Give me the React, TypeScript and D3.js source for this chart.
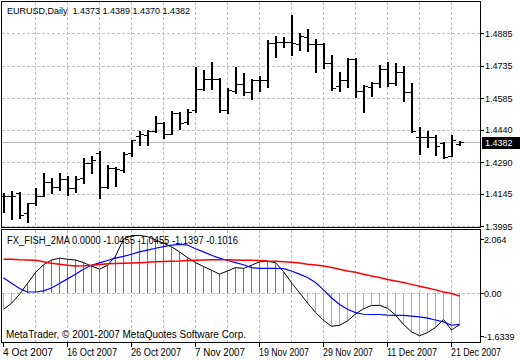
import { useMemo } from 'react';
import { scalePoint, scaleLinear, line as d3line, timeParse, timeFormat } from 'd3';

// trading days shown on the chart (EURUSD, Daily)
const DATES = [
  '2007-10-04', '2007-10-05', '2007-10-08', '2007-10-09', '2007-10-10', '2007-10-11', '2007-10-12',
  '2007-10-15', '2007-10-16', '2007-10-17', '2007-10-18', '2007-10-19', '2007-10-22', '2007-10-23',
  '2007-10-24', '2007-10-25', '2007-10-26', '2007-10-29', '2007-10-30', '2007-10-31', '2007-11-01',
  '2007-11-02', '2007-11-05', '2007-11-06', '2007-11-07', '2007-11-08', '2007-11-09', '2007-11-12',
  '2007-11-13', '2007-11-14', '2007-11-15', '2007-11-16', '2007-11-19', '2007-11-20', '2007-11-21',
  '2007-11-22', '2007-11-23', '2007-11-26', '2007-11-27', '2007-11-28', '2007-11-29', '2007-11-30',
  '2007-12-03', '2007-12-04', '2007-12-05', '2007-12-06', '2007-12-07', '2007-12-10', '2007-12-11',
  '2007-12-12', '2007-12-13', '2007-12-14', '2007-12-17', '2007-12-18', '2007-12-19', '2007-12-20',
  '2007-12-21', '2007-12-24',
];

const OPEN = [
  1.4134, 1.4134, 1.4148, 1.4056, 1.4102, 1.4134, 1.4199, 1.4176, 1.4213, 1.4171,
  1.4218, 1.4287, 1.4333, 1.4176, 1.4264, 1.4255, 1.4333, 1.4411, 1.4416, 1.4434,
  1.4471, 1.4421, 1.4517, 1.4476, 1.4531, 1.4628, 1.4674, 1.4674, 1.4531, 1.4619,
  1.4651, 1.4614, 1.4670, 1.4670, 1.4841, 1.4845, 1.4845, 1.4836, 1.4868, 1.4836,
  1.4836, 1.4748, 1.4642, 1.4670, 1.4767, 1.4619, 1.4638, 1.4656, 1.4721, 1.4656,
  1.4707, 1.4614, 1.4407, 1.4407, 1.4407, 1.4379, 1.4319, 1.4373,
];
const HIGH = [
  1.4148, 1.4158, 1.4153, 1.4102, 1.4171, 1.4241, 1.4218, 1.4241, 1.4227, 1.4227,
  1.4310, 1.4319, 1.4342, 1.4278, 1.4268, 1.4337, 1.4393, 1.4434, 1.4439, 1.4504,
  1.4476, 1.4527, 1.4522, 1.4536, 1.4730, 1.4716, 1.4753, 1.4679, 1.4633, 1.4730,
  1.4702, 1.4674, 1.4688, 1.4854, 1.4873, 1.4868, 1.4970, 1.4887, 1.4905, 1.4859,
  1.4841, 1.4785, 1.4707, 1.4771, 1.4771, 1.4647, 1.4661, 1.4739, 1.4753, 1.4748,
  1.4734, 1.4656, 1.4453, 1.4434, 1.4416, 1.4384, 1.4416, 1.4389,
];
const LOW = [
  1.4061, 1.4028, 1.4033, 1.4014, 1.4093, 1.4134, 1.4148, 1.4162, 1.4139, 1.4153,
  1.4194, 1.4241, 1.4125, 1.4171, 1.4181, 1.4245, 1.4319, 1.4370, 1.4370, 1.4430,
  1.4402, 1.4421, 1.4444, 1.4467, 1.4522, 1.4624, 1.4628, 1.4522, 1.4517, 1.4610,
  1.4601, 1.4582, 1.4619, 1.4638, 1.4776, 1.4822, 1.4785, 1.4808, 1.4804, 1.4707,
  1.4725, 1.4624, 1.4619, 1.4638, 1.4591, 1.4522, 1.4596, 1.4638, 1.4642, 1.4647,
  1.4573, 1.4430, 1.4328, 1.4361, 1.4324, 1.4310, 1.4319, 1.4370,
];
const CLOSE = [
  1.4134, 1.4134, 1.4047, 1.4102, 1.4134, 1.4199, 1.4176, 1.4213, 1.4171, 1.4213,
  1.4287, 1.4301, 1.4176, 1.4264, 1.4259, 1.4328, 1.4393, 1.4421, 1.4434, 1.4471,
  1.4421, 1.4517, 1.4471, 1.4522, 1.4628, 1.4674, 1.4674, 1.4531, 1.4624, 1.4651,
  1.4614, 1.4670, 1.4670, 1.4841, 1.4845, 1.4845, 1.4841, 1.4873, 1.4836, 1.4836,
  1.4748, 1.4633, 1.4670, 1.4767, 1.4619, 1.4642, 1.4656, 1.4721, 1.4656, 1.4707,
  1.4614, 1.4434, 1.4407, 1.4407, 1.4365, 1.4314, 1.4393, 1.4382,
];

// FX_FISH_2MA buffers
const HIST = [
  -0.61, -0.38, -0.04, 0.38, 0.79, 1.09, 1.27, 1.34, 1.3, 1.27,
  1.17, 1.04, 0.92, 1.07, 1.42, 2.06, 2.06, 2.06, 2.06, 2.04,
  1.91, 1.78, 1.58, 1.36, 1.17, 1.02, 0.88, 0.73, 0.85, 0.98,
  0.95, 1.07, 1.2, 1.22, 1.17, 0.83, 0.4, 0.02, -0.37, -0.73,
  -1.03, -1.26, -1.22, -1.06, -0.79, -0.59, -0.47, -0.46, -0.57, -0.83,
  -1.19, -1.47, -1.62, -1.5, -1.3, -1.0, -1.4, -1.2,
];
const FISHER = [
  -0.61, -0.38, -0.04, 0.38, 0.79, 1.09, 1.27, 1.34, 1.3, 1.27,
  1.17, 1.04, 0.92, 1.07, 1.42, 2.06, 2.2, 2.21, 2.16, 2.04,
  1.91, 1.78, 1.58, 1.36, 1.17, 1.02, 0.88, 0.73, 0.85, 0.98,
  0.95, 1.07, 1.2, 1.22, 1.17, 0.83, 0.4, 0.02, -0.37, -0.73,
  -1.03, -1.26, -1.22, -1.06, -0.79, -0.59, -0.47, -0.46, -0.57, -0.83,
  -1.19, -1.47, -1.62, -1.5, -1.3, -1.0, -1.4, -1.2,
];
const SIGNAL = [
  0.59, 0.38, 0.18, 0.05, 0.05, 0.09, 0.2, 0.37, 0.55, 0.73,
  0.92, 1.07, 1.16, 1.25, 1.34, 1.41, 1.49, 1.58, 1.65, 1.72,
  1.78, 1.84, 1.87, 1.84, 1.7, 1.58, 1.45, 1.34, 1.25, 1.17,
  1.09, 0.98, 0.95, 0.95, 0.95, 0.94, 0.85, 0.73, 0.6, 0.41,
  0.13, -0.17, -0.43, -0.61, -0.74, -0.8, -0.81, -0.81, -0.83, -0.84,
  -0.84, -0.87, -0.9, -0.95, -1.02, -1.09, -1.22, -1.19,
];
const SLOW = [
  1.3, 1.3, 1.28, 1.27, 1.26, 1.2, 1.15, 1.11, 1.07, 1.04,
  1.05, 1.07, 1.1, 1.13, 1.14, 1.15, 1.16, 1.17, 1.18, 1.2,
  1.21, 1.22, 1.23, 1.25, 1.26, 1.27, 1.28, 1.28, 1.28, 1.27,
  1.26, 1.26, 1.25, 1.23, 1.22, 1.2, 1.18, 1.16, 1.11, 1.08,
  1.04, 0.98, 0.92, 0.85, 0.8, 0.73, 0.66, 0.6, 0.53, 0.47,
  0.41, 0.34, 0.27, 0.2, 0.13, 0.05, -0.01, -0.1,
];

const PRICE_TICKS = [1.4885, 1.4735, 1.4585, 1.444, 1.429, 1.4145, 1.3995];
const IND_TICKS = [2.064, 0, -1.6339];
const IND_LABELS = ['2.064', '0.00', '-1.6339'];
const TIME_TICKS = [
  '2007-10-04', '2007-10-16', '2007-10-26', '2007-11-07',
  '2007-11-19', '2007-11-29', '2007-12-11', '2007-12-21',
];
const TITLE = 'EURUSD,Daily  1.4373 1.4389 1.4370 1.4382';
const IND_TITLE = 'FX_FISH_2MA 0.0000 -1.0455 -1.0455 -1.1397 -0.1016';
const COPYRIGHT = 'MetaTrader, \u00a9 2001-2007 MetaQuotes Software Corp.';
const LAST = 1.4382;

const W = 520;
const H = 360;
const LEFT = 1.5;
const RIGHT = 480.5;
const MAIN = { top: 1.5, bottom: 227.5 };
const IND = { top: 229.5, bottom: 342.5 };
const FONT = '"Liberation Sans", Arial, sans-serif';
const GRID = '#c0c0c0';

const parse = timeParse('%Y-%m-%d');
const fmt = timeFormat('%-d %b %Y');

export default function App() {
  const x = useMemo(() => scalePoint<string>().domain(DATES).range([3, 459]), []);
  const y = useMemo(() => scaleLinear().domain([1.3991, 1.5029]).range([227, 2]), []);
  const yi = useMemo(() => scaleLinear().domain([-1.6339, 2.064]).range([336.1, 239.2]), []);

  const px = (d: string) => Math.round(x(d) ?? 0);
  const py = (v: number) => Math.round(y(v));

  const lineGen = (vals: number[]) =>
    d3line<number>()
      .x((_, i) => px(DATES[i]) + 0.5)
      .y((v) => yi(v))(vals) ?? '';

  // vertical grid every 4 bars
  const vgrid = DATES.filter((_, i) => i > 0 && i % 4 === 0);

  return (
    <svg
      width={W}
      height={H}
      style={{ position: 'absolute', left: 0, top: 0, background: '#fff' }}
      fontFamily={FONT}
      fontSize={9}
    >
      <defs>
        <clipPath id="clipMain">
          <rect x={2} y={2} width={RIGHT - 2} height={MAIN.bottom - 2} />
        </clipPath>
        <clipPath id="clipInd">
          <rect x={2} y={IND.top + 0.5} width={RIGHT - 2} height={IND.bottom - IND.top - 1} />
        </clipPath>
      </defs>
      <rect width={W} height={H} fill="#fff" />

      {/* grids */}
      <g stroke={GRID} strokeDasharray="3,2" shapeRendering="crispEdges">
        {vgrid.map((d) => (
          <line key={'vm' + d} x1={px(d) + 0.5} x2={px(d) + 0.5} y1={MAIN.top} y2={MAIN.bottom} />
        ))}
        {PRICE_TICKS.map((t) => (
          <line key={'h' + t} x1={LEFT} x2={RIGHT} y1={py(t) + 0.5} y2={py(t) + 0.5} />
        ))}
        {vgrid.map((d) => (
          <line key={'vi' + d} x1={px(d) + 0.5} x2={px(d) + 0.5} y1={IND.top} y2={IND.bottom} />
        ))}
        <line x1={LEFT} x2={RIGHT} y1={Math.round(yi(0)) + 0.5} y2={Math.round(yi(0)) + 0.5} />
      </g>

      {/* last price line */}
      <line
        x1={LEFT}
        x2={RIGHT}
        y1={py(LAST) + 0.5}
        y2={py(LAST) + 0.5}
        stroke="#b8b8b8"
        shapeRendering="crispEdges"
      />

      {/* OHLC bars */}
      <g clipPath="url(#clipMain)" fill="#000" shapeRendering="crispEdges">
        {DATES.map((d, i) => {
          const bx = px(d);
          const hi = py(HIGH[i]);
          const lo = py(LOW[i]);
          return (
            <g key={d}>
              <rect x={bx} y={hi} width={2} height={Math.max(1, lo - hi + 1)} />
              <rect x={bx - 3} y={py(OPEN[i])} width={3} height={1} />
              <rect x={bx + 2} y={py(CLOSE[i])} width={3} height={1} />
            </g>
          );
        })}
      </g>

      {/* indicator */}
      <g clipPath="url(#clipInd)">
        <g shapeRendering="crispEdges">
          {HIST.map((v, i) => (
            <line
              key={'hb' + i}
              x1={px(DATES[i]) + 0.5}
              x2={px(DATES[i]) + 0.5}
              y1={yi(0)}
              y2={yi(v)}
              stroke={v >= 0 ? '#4682b4' : '#ffa500'}
            />
          ))}
        </g>
        <path d={lineGen(FISHER)} fill="none" stroke="#000" strokeWidth={1} />
        <path d={lineGen(SIGNAL)} fill="none" stroke="#0000ff" strokeWidth={1.2} />
        <path d={lineGen(SLOW)} fill="none" stroke="#ff0000" strokeWidth={1.5} />
      </g>

      {/* frames */}
      <g fill="none" stroke="#000" shapeRendering="crispEdges">
        <rect x={LEFT} y={MAIN.top} width={RIGHT - LEFT} height={MAIN.bottom - MAIN.top} />
        <rect x={LEFT} y={IND.top} width={RIGHT - LEFT} height={IND.bottom - IND.top} />
      </g>

      {/* axes */}
      <g shapeRendering="crispEdges" stroke="#000">
        {PRICE_TICKS.map((t) => (
          <line key={'pt' + t} x1={RIGHT} x2={RIGHT + 3} y1={py(t) + 0.5} y2={py(t) + 0.5} />
        ))}
        {IND_TICKS.map((t) => (
          <line key={'it' + t} x1={RIGHT} x2={RIGHT + 3} y1={Math.round(yi(t)) + 0.5} y2={Math.round(yi(t)) + 0.5} />
        ))}
        {TIME_TICKS.map((d) => (
          <line key={'tt' + d} x1={px(d) + 0.5} x2={px(d) + 0.5} y1={IND.bottom} y2={IND.bottom + 4} />
        ))}
      </g>
      <g fill="#000">
        {PRICE_TICKS.map((t) => (
          <text key={'pl' + t} x={485} y={y(t) + 3.5}>
            {t.toFixed(4)}
          </text>
        ))}
        {IND_TICKS.map((t, i) => (
          <text key={'il' + t} x={484} y={yi(t) + 3.5}>
            {IND_LABELS[i]}
          </text>
        ))}
        {TIME_TICKS.map((d) => (
          <text key={'tl' + d} x={px(d)} y={355.5} fontSize={10} textLength={50} lengthAdjust="spacingAndGlyphs">
            {fmt(parse(d)!)}
          </text>
        ))}
      </g>

      {/* last price marker */}
      <rect x={482} y={py(LAST) - 5} width={38} height={12} fill="#000" />
      <text x={485} y={py(LAST) + 4} fill="#fff">
        {LAST.toFixed(4)}
      </text>

      {/* labels */}
      <text x={7} y={14} style={{ whiteSpace: 'pre' }}>
        {TITLE}
      </text>
      <text x={7} y={243.5} fontSize={10} textLength={231} lengthAdjust="spacingAndGlyphs">
        {IND_TITLE}
      </text>
      <text x={6} y={338} fontSize={10} textLength={240} lengthAdjust="spacingAndGlyphs">
        {COPYRIGHT}
      </text>
    </svg>
  );
}
